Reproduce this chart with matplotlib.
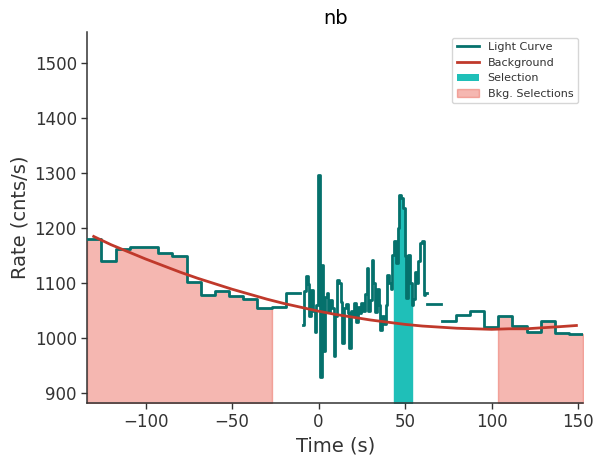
import numpy as np
import matplotlib
matplotlib.use("Agg")
import matplotlib.pyplot as plt
from matplotlib.lines import Line2D
from matplotlib.patches import Patch

# ---------------- data ----------------
title = "nb"

# coarse bins before the burst (s) and their rates (cnts/s)
pre_edges = [-133.7, -125.5, -117.3, -109.1, -100.9, -92.7, -84.5, -76.3,
             -68.1, -59.9, -51.7, -43.5, -35.4, -27.2, -19.0, -10.8]
pre_rates = [1181, 1140, 1162, 1165, 1165, 1154, 1149, 1102,
             1079, 1085, 1076, 1071, 1055, 1057, 1083]

# fine 1 s bins through the burst
burst_start = -9.3
burst_width = 1.0
burst_rates = [1024, 1085, 1113, 1098, 1040, 1087, 1050, 1012, 1060, 1297,
               929, 1133, 976, 1075, 1082, 1048, 1070, 1055, 967, 1040,
               1105, 1100, 1065, 991, 1055, 1062, 1045, 982, 1050, 1040,
               1064, 1030, 1056, 1045, 1064, 1050, 1080, 1127, 1050, 1070,
               1142, 1100, 1048, 1090, 1060, 1015, 1040, 1025, 1060, 1115,
               1100, 1090, 1151, 1176, 1137, 1200, 1260, 1255, 1236, 1150,
               1073, 1151, 1100, 1060, 1072, 1120, 1100, 1140, 1173, 1176,
               1079, 1082]

# isolated bin after the burst
mid_bin = [62.9, 71.0]
mid_rate = 1062

# coarse bins after the burst
post_edges = [71.1, 79.3, 87.5, 95.7, 103.8, 112.0, 120.2, 128.4, 136.6,
              144.8, 153.0]
post_rates = [1031, 1042, 1050, 1020, 1041, 1022, 1011, 1031, 1010, 1007]

# background model
bkg_times = [-130, -120, -110, -100, -90, -80, -70, -60, -50, -40, -30, -20,
             -10, 0, 10, 20, 30, 40, 50, 60, 70, 80, 90, 100, 110, 120, 130,
             140, 149]
bkg_rates = [1185, 1170, 1157, 1144, 1132, 1120, 1109, 1099, 1089, 1080,
             1071, 1063, 1056, 1049, 1043, 1038, 1033, 1029, 1025, 1022,
             1020, 1018, 1017, 1016, 1017, 1017, 1019, 1021, 1023]

selection = [(43.4, 54.0)]
bkg_selections = [(-133.7, -27.0), (103.8, 153.0)]

lc_color = "#05716c"
bkg_color = "#c0392b"
sel_color = "#1fbfb8"
bkgsel_color = "#e74c3c"

# ---------------- build bins ----------------
starts, stops, rates = [], [], []
for i, r in enumerate(pre_rates):
    starts.append(pre_edges[i]); stops.append(pre_edges[i + 1]); rates.append(r)
for i, r in enumerate(burst_rates):
    s = burst_start + i * burst_width
    starts.append(s); stops.append(s + burst_width); rates.append(r)
starts.append(mid_bin[0]); stops.append(mid_bin[1]); rates.append(mid_rate)
for i, r in enumerate(post_rates):
    starts.append(post_edges[i]); stops.append(post_edges[i + 1]); rates.append(r)
starts = np.round(np.array(starts), 4)
stops = np.round(np.array(stops), 4)
rates = np.array(rates, dtype=float)

top = rates.max() * 1.2
bottom = rates.min() * 0.95

# ---------------- figure ----------------
text_c = "#333333"
plt.rcParams.update({
    "font.family": "DejaVu Sans",
    "text.color": text_c,
    "axes.labelcolor": text_c,
    "xtick.color": text_c,
    "ytick.color": text_c,
    "axes.edgecolor": text_c,
})

fig = plt.figure(figsize=(6.02, 4.65), dpi=100)
ax = fig.add_axes([0.145, 0.134, 0.824, 0.7965])

# light curve: one line, broken where bins are not contiguous
xs, ys = [], []
for i in range(len(rates)):
    if i > 0 and abs(starts[i] - stops[i - 1]) > 1e-6:
        xs.append(np.nan); ys.append(np.nan)
    xs.extend([starts[i], stops[i]])
    ys.extend([rates[i], rates[i]])
ax.plot(xs, ys, color=lc_color, lw=2, zorder=3)


def fill_interval(lo, hi, **kw):
    fx, fy = [], []
    for s, e, r in zip(starts, stops, rates):
        a, b = max(s, lo), min(e, hi)
        if b > a:
            fx.extend([a, b]); fy.extend([r, r])
    ax.fill_between(fx, bottom, fy, **kw)


for lo, hi in selection:
    fill_interval(lo, hi, color=sel_color, zorder=1)
for lo, hi in bkg_selections:
    fill_interval(lo, hi, color=bkgsel_color, alpha=0.4, zorder=1)

ax.plot(bkg_times, bkg_rates, color=bkg_color, lw=2, zorder=4)

ax.set_xlim(starts.min(), stops.max())
ax.set_ylim(bottom, top)
ax.set_xlabel("Time (s)", fontsize=14)
ax.set_ylabel("Rate (cnts/s)", fontsize=14)
ax.set_title(title, fontsize=14, color="black")
ax.tick_params(labelsize=12, length=4, width=1, direction="out")
for sp in ("top", "right"):
    ax.spines[sp].set_visible(False)
for sp in ("left", "bottom"):
    ax.spines[sp].set_linewidth(1.1)

handles = [Line2D([], [], color=lc_color, lw=2),
           Line2D([], [], color=bkg_color, lw=2),
           Patch(facecolor=sel_color),
           Patch(facecolor=bkgsel_color, alpha=0.4, edgecolor=bkgsel_color)]
labels = ["Light Curve", "Background", "Selection", "Bkg. Selections"]
leg = ax.legend(handles, labels, loc="upper right", fontsize=8, frameon=True,
                fancybox=True)
leg.get_frame().set_edgecolor("#cccccc")

fig.savefig("out.png", dpi=100)
